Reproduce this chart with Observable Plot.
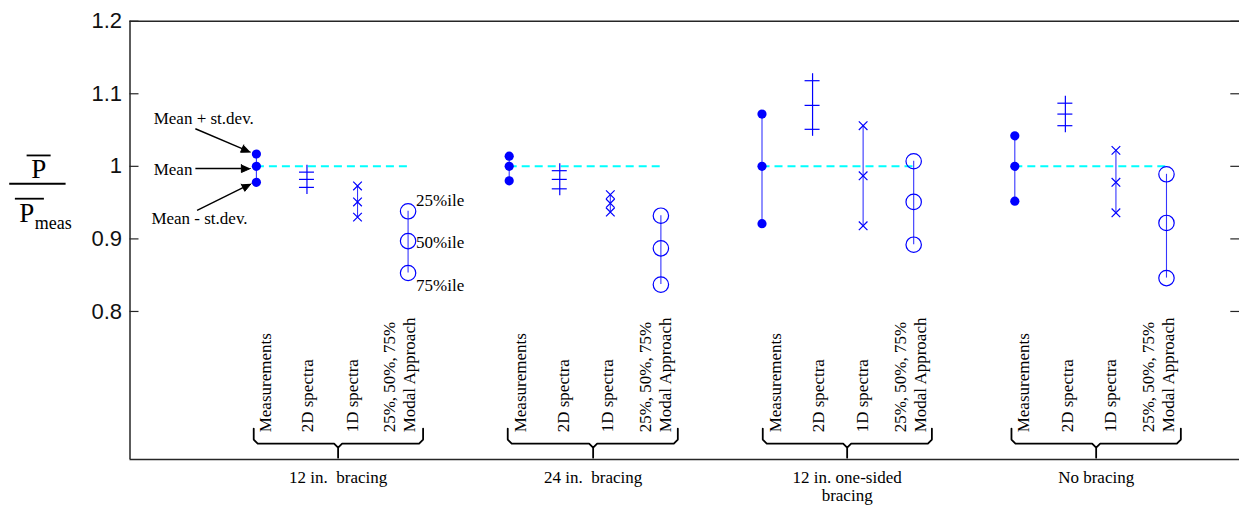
<!DOCTYPE html>
<html><head><meta charset="utf-8">
<script src="https://cdn.jsdelivr.net/npm/d3@7"></script>
<script src="https://cdn.jsdelivr.net/npm/@observablehq/plot@0.6"></script>
<style>
html,body{margin:0;padding:0;background:#fff;overflow:hidden}
</style></head><body><div id="chart"></div>
<script>
// ---------- data ----------
const groups = ["12 in.\u00a0 bracing", "24 in.\u00a0 bracing", "12 in. one-sided\nbracing", "No bracing"];
const methods = ["Measurements", "2D spectra", "1D spectra", "25%, 50%, 75%\nModal Approach"];
const measMinus = [0.978, 0.980, 0.921, 0.952];
const measMean  = [1.000, 1.000, 1.000, 1.000];
const measPlus  = [1.017, 1.014, 1.072, 1.042];
const spec2DLow  = [0.971, 0.969, 1.051, 1.056];
const spec2DMid  = [0.982, 0.982, 1.084, 1.072];
const spec2DHigh = [0.992, 0.994, 1.118, 1.087];
const spec1DLow  = [0.930, 0.937, 0.918, 0.936];
const spec1DMid  = [0.951, 0.949, 0.987, 0.978];
const spec1DHigh = [0.973, 0.961, 1.056, 1.022];
const modal75 = [0.853, 0.837, 0.892, 0.846];
const modal50 = [0.897, 0.887, 0.951, 0.922];
const modal25 = [0.938, 0.932, 1.007, 0.989];
const yTicks = [0.8, 0.9, 1.0, 1.1, 1.2];
const yTickLabels = ["0.8", "0.9", "1", "1.1", "1.2"];
const refLine = 1.0;

// ---------- layout (annotation positions in data units) ----------
const X0 = -1.5, X1 = 20.45, Y0 = 0.596, Y1 = 1.2;
const PXX = 50.56, PXY = 726; // pixels per data unit (for small annotation geometry)
const pos = (g, i) => 5 * g + i + 1;
const methodLabelX = [
  [1.297, 2.114, 3.004, 4.145],
  [6.341, 7.177, 8.056, 9.199],
  [11.385, 12.221, 13.10, 14.243],
  [16.276, 17.147, 18.005, 19.148]
];
const bracketL = [0.947, 5.971, 11.015, 15.934];
const bracketC = [2.616, 7.66, 12.684, 17.609];
const bracketR = [4.297, 9.335, 14.36, 19.284];

// ---------- build rows ----------
const meas = [], p2d = [], p1d = [], modal = [], ranges = [], ranges2d = [], dashes = [];
groups.forEach((g, k) => {
  [measMinus[k], measMean[k], measPlus[k]].forEach(v => meas.push({x: pos(k, 0), y: v}));
  [spec2DLow[k], spec2DMid[k], spec2DHigh[k]].forEach(v => p2d.push({x: pos(k, 1), y: v}));
  [spec1DLow[k], spec1DMid[k], spec1DHigh[k]].forEach(v => p1d.push({x: pos(k, 2), y: v}));
  [modal75[k], modal50[k], modal25[k]].forEach(v => modal.push({x: pos(k, 3), y: v}));
  ranges.push({x: pos(k, 0), y1: measMinus[k], y2: measPlus[k]});
  ranges.push({x: pos(k, 2), y1: spec1DLow[k], y2: spec1DHigh[k]});
  ranges.push({x: pos(k, 3), y1: modal75[k], y2: modal25[k]});
  ranges2d.push({x: pos(k, 1), top: spec2DHigh[k], bottom: spec2DLow[k]});
  dashes.push({y: refLine, x1: pos(k, 0), x2: pos(k, 3)});
});

const methodLabels = [];
groups.forEach((g, k) => methods.forEach((m, i) => methodLabels.push({x: methodLabelX[k][i], text: m})));

// curly brackets
const yTop = 0.6386, yH = 0.6179, yBot = 0.5985;
const cx = 4 / PXX, cy = 4 / PXY;
const bracketPts = [];
groups.forEach((g, k) => {
  const L = bracketL[k], C = bracketC[k], R = bracketR[k];
  [[L, yTop], [L, yH + cy], [L + cx, yH], [C - cx, yH], [C, yH - cy], [C, yBot],
   [C, yH - cy], [C + cx, yH], [R - cx, yH], [R, yH + cy], [R, yTop]]
    .forEach(([x, y]) => bracketPts.push({g: k, x, y}));
});

// arrows
const arrows = [
  {x1: -0.207, y1: 1.0518, x2: 0.881, y2: 1.0196},
  {x1: -0.207, y1: 0.997, x2: 0.881, y2: 0.997},
  {x1: -0.173, y1: 0.9393, x2: 0.895, y2: 0.976}
];
const shafts = [], heads = [];
arrows.forEach((a, k) => {
  const dx = (a.x2 - a.x1) * PXX, dy = -(a.y2 - a.y1) * PXY;
  const len = Math.hypot(dx, dy), ux = dx / len, uy = dy / len;
  const Lh = 9, w = 4;
  const bx = -Lh * ux, by = -Lh * uy;
  const toData = (px, py) => ({x: a.x2 + px / PXX, y: a.y2 - py / PXY});
  const base = toData(bx, by);
  shafts.push({x1: a.x1, y1: a.y1, x2: base.x, y2: base.y});
  [[0, 0], [bx - w * uy, by + w * ux], [bx + w * uy, by - w * ux]]
    .forEach(([px, py]) => heads.push({k, ...toData(px, py)}));
});

const notes = [
  {x: -1.031, y: 1.0587, text: "Mean + st.dev."},
  {x: -1.031, y: 0.9875, text: "Mean"},
  {x: -1.077, y: 0.920, text: "Mean - st.dev."}
];
const pctNotes = [
  {x: 4.159, y: 0.9528, text: "25%ile"},
  {x: 4.159, y: 0.8948, text: "50%ile"},
  {x: 4.159, y: 0.836, text: "75%ile"}
];

const serif = "'Liberation Serif', 'Times New Roman', serif";
const sans = "'Liberation Sans', Arial, sans-serif";
const frameColor = "#262626";
const blue = "#0000ff";

const chart = Plot.plot({
  width: 1239, height: 506,
  marginLeft: 130, marginRight: 0, marginTop: 21, marginBottom: 47,
  style: {background: "#fff", overflow: "visible"},
  x: {domain: [X0, X1], range: [129.5, 1239.3], axis: null},
  y: {domain: [Y0, Y1], range: [459, 20.7], axis: null},
  marks: [
    // frame
    Plot.ruleY([{y: Y1}, {y: Y0}], {y: "y", x1: () => X0, x2: () => X1, stroke: frameColor, strokeWidth: 1.5}),
    Plot.ruleX([{x: X0}], {x: "x", y1: () => Y1, y2: () => Y0, stroke: frameColor, strokeWidth: 1.5}),
    // y ticks (inward)
    Plot.ruleY(yTicks, {y: d => d, x1: () => X0, x2: () => X0, insetRight: -9, stroke: frameColor, strokeWidth: 1.2}),
    Plot.ruleY(yTicks, {y: d => d, x1: () => X1, x2: () => X1, insetLeft: -9, stroke: frameColor, strokeWidth: 1.2}),
    Plot.text(yTicks, {x: () => X0, y: d => d, text: (d, i) => yTickLabels[i], textAnchor: "end", dx: -8,
      fontFamily: sans, fontSize: 22, fill: "#111"}),
    // reference dashed line
    Plot.ruleY(dashes, {y: "y", x1: "x1", x2: "x2", stroke: "#00ffff", strokeWidth: 2, strokeDasharray: "8,5"}),
    // connecting lines
    Plot.ruleX(ranges, {x: "x", y1: "y1", y2: "y2", stroke: "#3535ff", strokeWidth: 1.1}),
    Plot.ruleX(ranges2d, {x: "x", y1: "top", y2: "bottom", insetTop: -7, insetBottom: -7, stroke: blue, strokeWidth: 1.2}),
    // markers
    Plot.dot(meas, {x: "x", y: "y", r: 4.6, fill: blue, stroke: "none"}),
    Plot.ruleY(p2d, {y: "y", x1: "x", x2: "x", insetLeft: -7.5, insetRight: -7.5, stroke: blue, strokeWidth: 1.2}),
    Plot.dot(p1d, {x: "x", y: "y", symbol: "times", r: 4, stroke: blue, strokeWidth: 1.2}),
    Plot.dot(modal, {x: "x", y: "y", r: 7.7, stroke: blue, fill: "none", strokeWidth: 1.2}),
    // brackets
    Plot.line(bracketPts, {x: "x", y: "y", z: "g", stroke: "#000", strokeWidth: 1.8}),
    // method labels (rotated)
    Plot.text(methodLabels, {x: "x", y: () => 0.6335, text: "text", rotate: -90, textAnchor: "start",
      lineAnchor: "bottom", lineHeight: 1.2, fontFamily: serif, fontSize: 17, fill: "#000"}),
    // group labels
    Plot.text(groups, {x: (d, i) => bracketC[i], y: () => 0.5817, text: d => d, textAnchor: "middle",
      lineAnchor: "top", lineHeight: 1.08, fontFamily: serif, fontSize: 17, fill: "#000"}),
    // annotations
    Plot.link(shafts, {x1: "x1", y1: "y1", x2: "x2", y2: "y2", stroke: "#000", strokeWidth: 1.4}),
    Plot.line(heads, {x: "x", y: "y", z: "k", fill: "#000", stroke: "#000", strokeWidth: 1}),
    Plot.text(notes, {x: "x", y: "y", text: "text", textAnchor: "start", lineAnchor: "bottom",
      fontFamily: serif, fontSize: 17, fill: "#000"}),
    Plot.text(pctNotes, {x: "x", y: "y", text: "text", textAnchor: "start", lineAnchor: "middle",
      fontFamily: serif, fontSize: 17, fill: "#000"}),
    // y-axis label: P̄ / P̄meas
    Plot.text(["P"], {x: () => -3.306, y: () => 0.9833, text: d => d, textAnchor: "middle", lineAnchor: "bottom",
      fontFamily: serif, fontSize: 27, fill: "#000"}),
    Plot.text(["P"], {x: () => -3.688, y: () => 0.9232, text: d => d, textAnchor: "start", lineAnchor: "bottom",
      fontFamily: serif, fontSize: 27, fill: "#000"}),
    Plot.text(["meas"], {x: () => -3.385, y: () => 0.914, text: d => d, textAnchor: "start", lineAnchor: "bottom",
      fontFamily: serif, fontSize: 18, fill: "#000"}),
    Plot.ruleY([{y: 1.015, x1: -3.535, x2: -3.060}, {y: 0.976, x1: -3.879, x2: -2.764}, {y: 0.9554, x1: -3.767, x2: -3.193}],
      {y: "y", x1: "x1", x2: "x2", stroke: "#000", strokeWidth: 1.8})
  ]
});
document.getElementById("chart").appendChild(chart);
</script>
</body></html>
